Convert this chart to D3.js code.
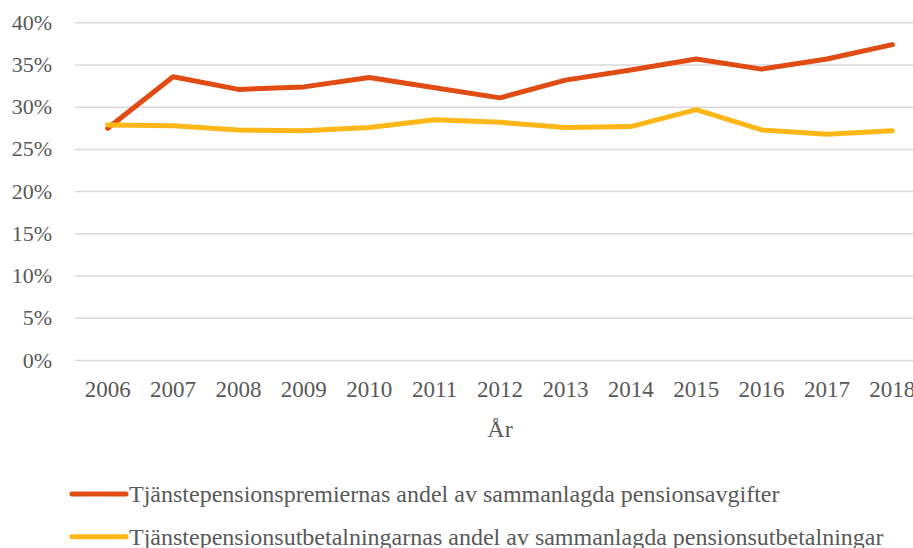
<!DOCTYPE html>
<html>
<head>
<meta charset="utf-8">
<script src="https://cdn.jsdelivr.net/npm/d3@7"></script>
<style>
  body { margin: 0; background: #fff; }
  svg text { font-family: "Liberation Serif", "Times New Roman", serif; fill: #595959; }
</style>
</head>
<body>
<div class="chart"></div>
<script>
var years = ["2006", "2007", "2008", "2009", "2010", "2011", "2012", "2013", "2014", "2015", "2016", "2017", "2018"];
var premier = [27.5, 33.6, 32.1, 32.4, 33.5, 32.3, 31.1, 33.2, 34.4, 35.7, 34.5, 35.7, 37.4];
var utbetalningar = [27.9, 27.8, 27.3, 27.2, 27.6, 28.5, 28.2, 27.6, 27.7, 29.7, 27.3, 26.8, 27.2];
var yTicks = [0, 5, 10, 15, 20, 25, 30, 35, 40];
var seriesNames = [
  "Tjänstepensionspremiernas andel av sammanlagda pensionsavgifter",
  "Tjänstepensionsutbetalningarnas andel av sammanlagda pensionsutbetalningar"
];
var colors = ["#E04C14", "#FFB617"];

var svgWidth = 913;
var svgHeight = 548;

var svg = d3.select(".chart")
  .append("svg")
  .attr("width", svgWidth)
  .attr("height", svgHeight);

// plot area runs past the right edge, like the cropped original
var xScale = d3.scalePoint()
  .domain(years)
  .range([75, 925])
  .padding(0.5);

var yScale = d3.scaleLinear()
  .domain([0, 40])
  .range([360.5, 22.7]);

// gridlines
svg.append("g")
  .selectAll("line")
  .data(yTicks)
  .enter()
  .append("line")
  .attr("x1", 75)
  .attr("x2", 925)
  .attr("y1", d => yScale(d))
  .attr("y2", d => yScale(d))
  .attr("stroke", "#d9d9d9")
  .attr("stroke-width", 1.5);

// y labels
svg.append("g")
  .selectAll("text")
  .data(yTicks)
  .enter()
  .append("text")
  .attr("x", 52)
  .attr("y", d => yScale(d) + 7)
  .attr("text-anchor", "end")
  .style("font-size", "22px")
  .text(d => d + "%");

// x labels
svg.append("g")
  .selectAll("text")
  .data(years)
  .enter()
  .append("text")
  .attr("x", d => xScale(d))
  .attr("y", 397)
  .attr("text-anchor", "middle")
  .style("font-size", "23px")
  .text(d => d);

svg.append("text")
  .attr("x", 500)
  .attr("y", 437)
  .attr("text-anchor", "middle")
  .style("font-size", "24px")
  .text("År");

var line = d3.line()
  .x((d, i) => xScale(years[i]))
  .y(d => yScale(d));

[premier, utbetalningar].forEach(function(values, k) {
  svg.append("path")
    .datum(values)
    .attr("d", line)
    .attr("fill", "none")
    .attr("stroke", colors[k])
    .attr("stroke-width", 5)
    .attr("stroke-linecap", "round")
    .attr("stroke-linejoin", "round");
});

// legend
var legend = svg.append("g")
  .selectAll("g")
  .data(seriesNames)
  .enter()
  .append("g")
  .attr("transform", (d, i) => `translate(0, ${494 + i * 42.7})`);

legend.append("line")
  .attr("x1", 72)
  .attr("x2", 126)
  .attr("stroke", (d, i) => colors[i])
  .attr("stroke-width", 5)
  .attr("stroke-linecap", "round");

legend.append("text")
  .attr("x", 129)
  .attr("y", 8)
  .style("font-size", "24px")
  .text(d => d);
</script>
</body>
</html>
